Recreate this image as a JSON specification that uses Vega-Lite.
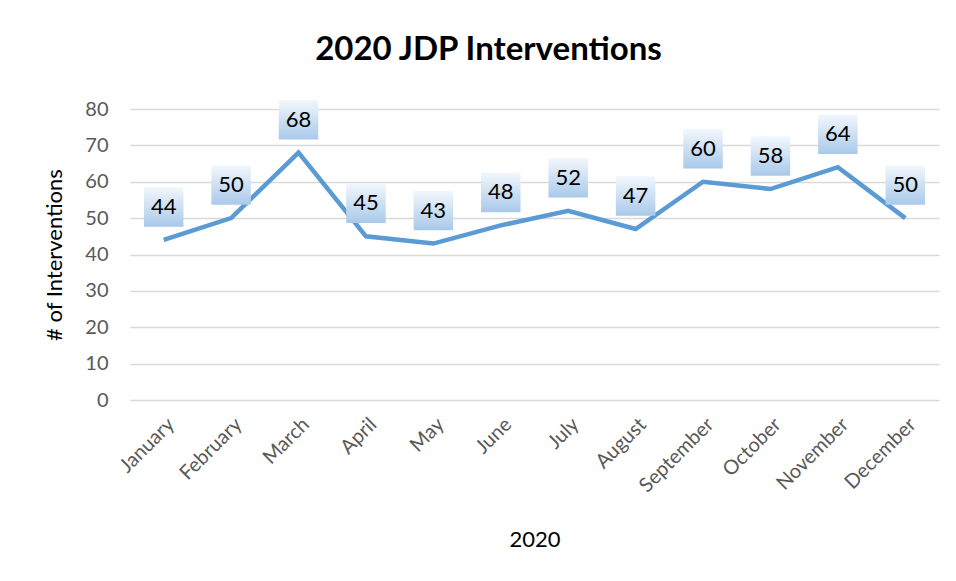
{
  "$schema": "https://vega.github.io/schema/vega-lite/v6.json",
  "autosize": {"type": "none"},
  "padding": {"left": 130, "top": 109, "right": 17, "bottom": 181},
  "width": 809,
  "height": 291,
  "background": "white",
  "title": {
    "text": "2020 JDP Interventions",
    "font": "Lato",
    "fontSize": 33,
    "fontWeight": "bold",
    "color": "#000000",
    "anchor": "middle",
    "dx": -46,
    "offset": 32
  },
  "config": {
    "view": {"stroke": null},
    "axis": {"labelFont": "Lato", "titleFont": "Lato"}
  },
  "data": {
    "values": [
      {"month": "January", "value": 44},
      {"month": "February", "value": 50},
      {"month": "March", "value": 68},
      {"month": "April", "value": 45},
      {"month": "May", "value": 43},
      {"month": "June", "value": 48},
      {"month": "July", "value": 52},
      {"month": "August", "value": 47},
      {"month": "September", "value": 60},
      {"month": "October", "value": 58},
      {"month": "November", "value": 64},
      {"month": "December", "value": 50}
    ]
  },
  "encoding": {
    "x": {
      "field": "month",
      "type": "ordinal",
      "sort": null,
      "scale": {"paddingInner": 0, "paddingOuter": 0.5},
      "axis": {
        "title": "2020",
        "titleFontSize": 22,
        "titleFontWeight": "normal",
        "titleColor": "#000000",
        "titlePadding": 34,
        "labelAngle": -45,
        "labelFontSize": 20,
        "labelColor": "#595959",
        "labelPadding": 14,
        "ticks": false,
        "domain": false,
        "grid": false
      }
    },
    "y": {
      "field": "value",
      "type": "quantitative",
      "scale": {"domain": [0, 80]},
      "axis": {
        "title": "# of Interventions",
        "titleFontSize": 22,
        "titleFontWeight": "normal",
        "titleColor": "#000000",
        "titlePadding": 18,
        "values": [0, 10, 20, 30, 40, 50, 60, 70, 80],
        "labelFontSize": 20,
        "labelColor": "#595959",
        "labelPadding": 22,
        "ticks": false,
        "domain": false,
        "grid": true,
        "gridColor": "#d9d9d9",
        "gridWidth": 1.5
      }
    }
  },
  "layer": [
    {
      "mark": {"type": "line", "color": "#5b9bd5", "strokeWidth": 4.5, "strokeJoin": "miter"}
    },
    {
      "mark": {
        "type": "point",
        "shape": "square",
        "size": 1560,
        "filled": true,
        "opacity": 1,
        "yOffset": -33,
        "fill": {
          "gradient": "linear",
          "x1": 0, "y1": 0, "x2": 0, "y2": 1,
          "stops": [
            {"offset": 0, "color": "#f2f7fc"},
            {"offset": 1, "color": "#a9c9ea"}
          ]
        }
      }
    },
    {
      "mark": {"type": "text", "font": "Lato", "fontSize": 22, "color": "#000000", "yOffset": -33, "baseline": "middle"},
      "encoding": {"text": {"field": "value", "type": "quantitative"}}
    }
  ]
}
